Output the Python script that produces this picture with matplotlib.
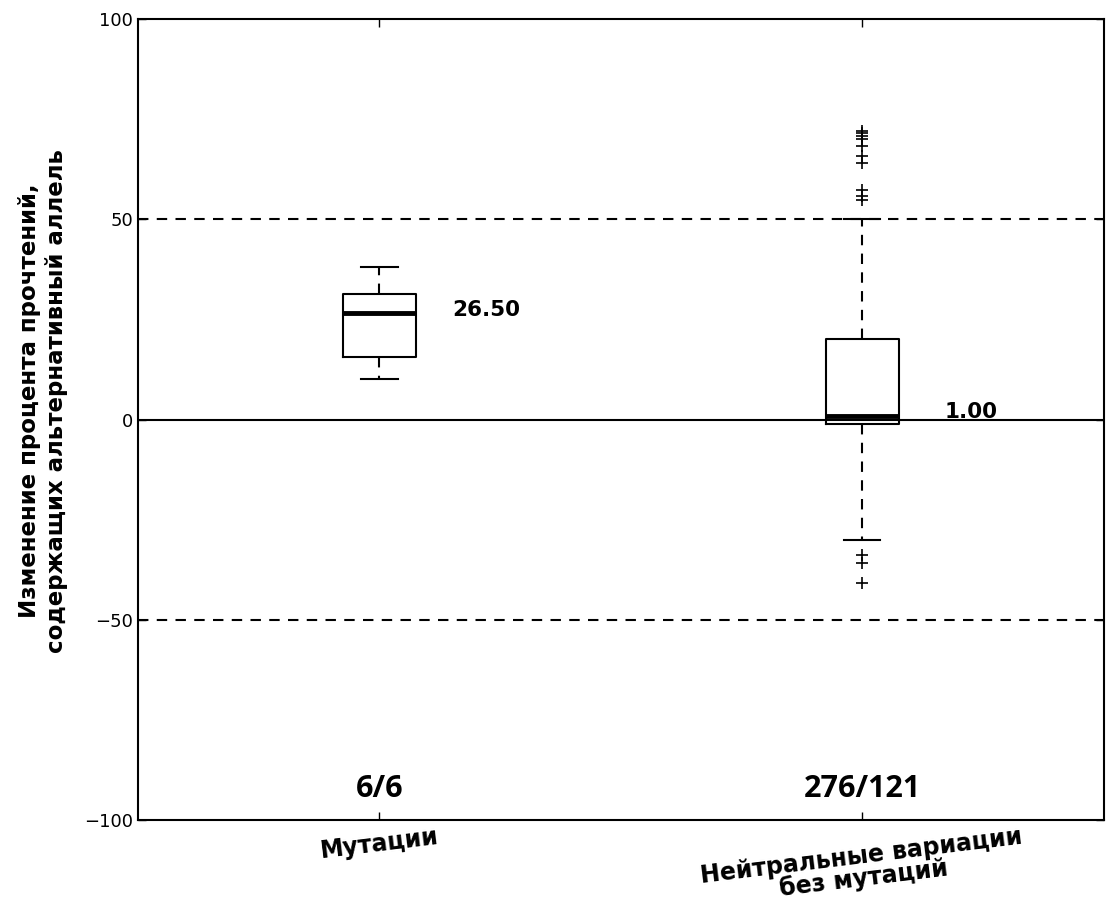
import numpy as np
from matplotlib import pyplot as plt

# values
groups = ['Мутации', 'Нейтральные вариации\nбез мутаций']
counts = ['6/6', '276/121']
whislo = [10.0, -30.0]
q1 = [15.5, -1.0]
med = [26.5, 1.0]
q3 = [31.3, 20.0]
whishi = [38.0, 50.0]
fliers_mut = []
fliers_neu = [72.0, 71.6, 70.9, 70.1, 68.2, 65.9, 64.1, 57.2, 55.9, 54.8,
              -33.8, -35.8, -40.9]
ref_lines = [-50, 0, 50]

fig = plt.figure(figsize=(11.06, 9.15), dpi=100)
ax = fig.add_axes([0.1248, 0.1038, 0.8732, 0.8754])

stats = []
for i, fl in enumerate([fliers_mut, fliers_neu]):
	stats.append(dict(whislo=whislo[i], q1=q1[i], med=med[i], q3=q3[i],
	                  whishi=whishi[i], fliers=np.array(fl), label=groups[i]))

ax.bxp(stats, positions=[1, 2], widths=0.15,
       boxprops=dict(color='black', linewidth=1.5),
       whiskerprops=dict(color='black', linewidth=1.5, linestyle=(0, (5, 4))),
       capprops=dict(color='black', linewidth=1.5),
       medianprops=dict(color='black', linewidth=3.5),
       flierprops=dict(marker='+', markeredgecolor='black', markersize=8, markeredgewidth=1.2))

for y in ref_lines:
	if y == 0:
		ax.axhline(y, color='black', linewidth=1.5, zorder=0)
	else:
		ax.axhline(y, color='black', linewidth=1.5, linestyle=(0, (5, 4)), zorder=0)

lab_off = [0.151, 0.17]
for i in range(2):
	ax.text(i + 1 + lab_off[i], med[i] + 0.8, '%.2f' % med[i], fontsize=15.5,
	        fontweight='bold', va='center', ha='left')
	ax.text(i + 1, -96, counts[i], fontsize=22, fontweight='bold',
	        family='Open Sans', ha='center', va='bottom')

ax.set_xlim(0.5, 2.5)
ax.set_ylim(-100, 100)
ax.set_yticks([-100, -50, 0, 50, 100])
ax.set_xticks([1, 2])
ax.tick_params(direction='in', length=6, width=1, top=True, right=True)
ax.tick_params(axis='y', labelsize=13)
ax.tick_params(axis='x', pad=3)
ax.set_xticklabels(groups, rotation=7, fontsize=17, fontweight='bold',
                   ha='center', multialignment='center', linespacing=0.9)
for s in ax.spines.values():
	s.set_linewidth(1.5)
ax.set_ylabel('Изменение процента прочтений,\nсодержащих альтернативный аллель',
              fontsize=16.5, fontweight='bold')
ax.yaxis.set_label_coords(-0.073, 0.523)

fig.savefig('out.png', dpi=100)
